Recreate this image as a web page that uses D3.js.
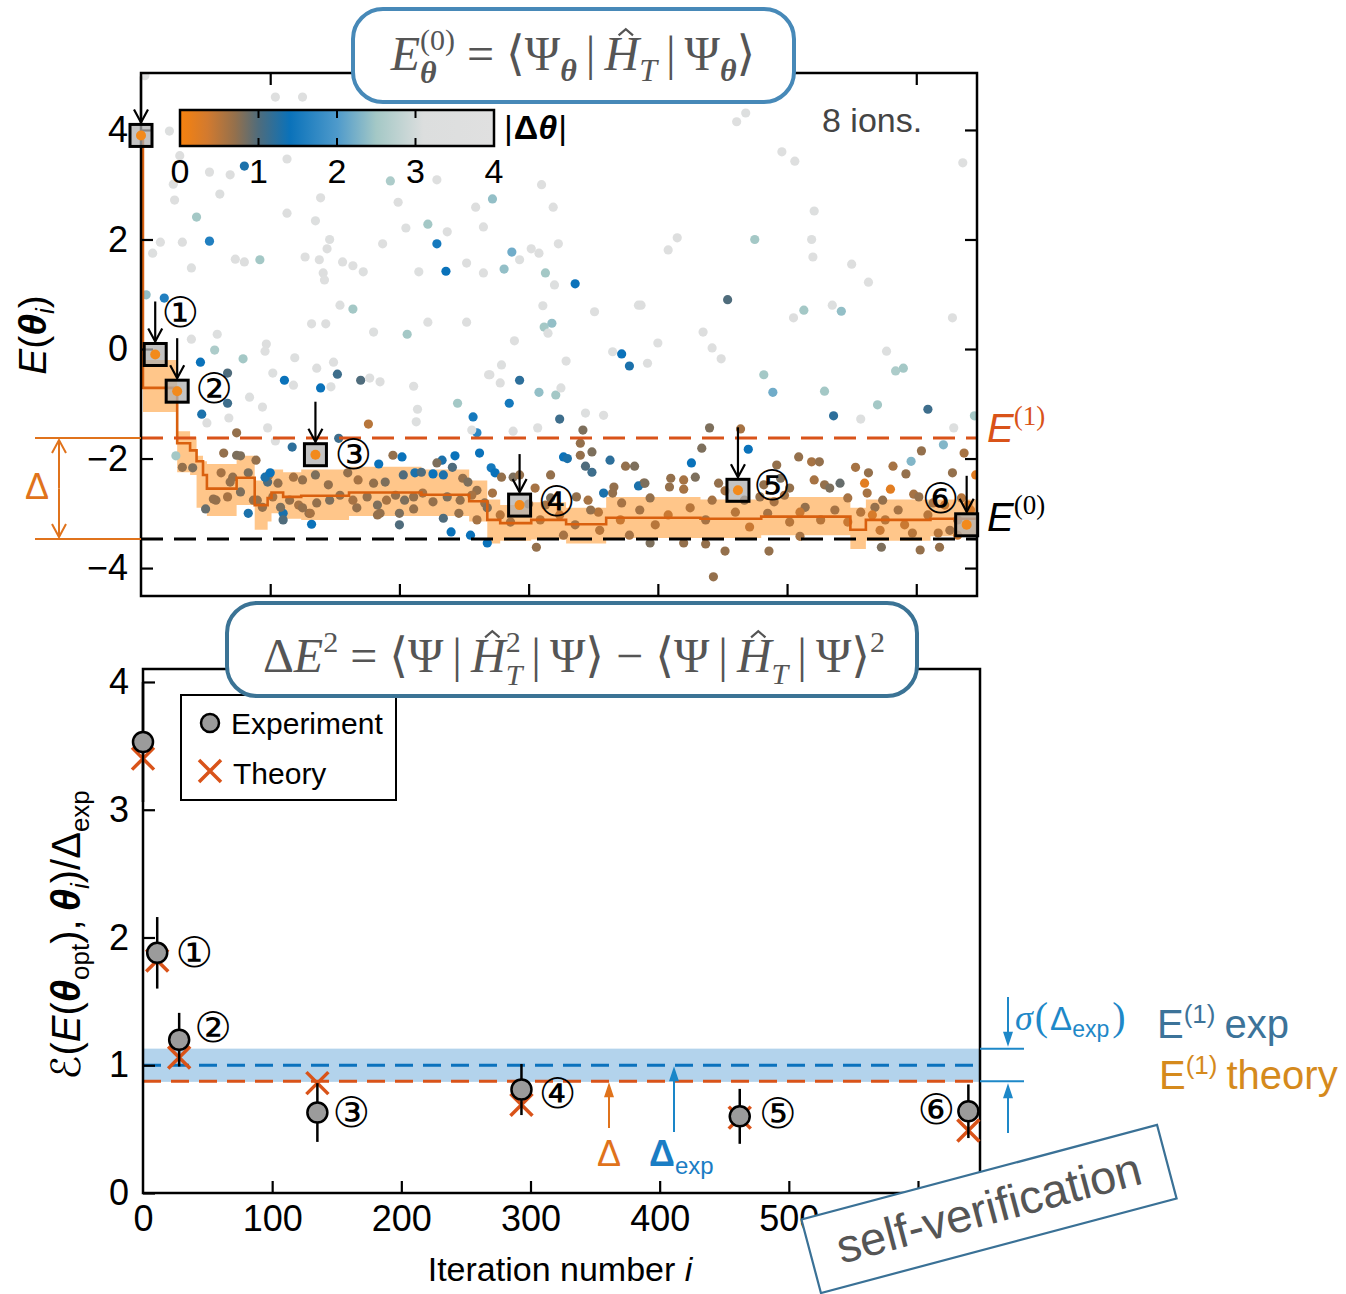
<!DOCTYPE html>
<html><head><meta charset="utf-8">
<script src="https://cdn.jsdelivr.net/npm/d3@7"></script>
<style>body{margin:0;background:#fff}</style>
</head><body>
<script>
// ================= DATA =================
// scatter: [iteration, energy, |Δθ|]
const scatterPoints = [
[3,4.99,3.5],[22,3.98,3.4],[30,3.53,3.3],[80,3.34,1.3],[53,3.23,3.5],[69,3.18,3.3],[113,3.47,3.6],[104,4.6,3.5],[125,4.6,3.5],[25,3.01,3.4],[61,2.83,3.2],[26,2.72,3.5],[43,2.41,2.5],[113,2.48,3.3],[139,2.76,3.6],[135,2.34,3.4],[199,2.68,3.3],[193,3.07,2.6],[229,3.09,3.5],[310,3.0,3.6],[272,2.74,2.4],[259,2.59,3.3],[319,2.59,3.5],[222,2.28,2.5],[205,2.21,3.4],[237,2.14,3.3],[265,2.23,3.6],[229,1.92,1.5],[53,1.97,1.6],[32,1.95,3.3],[15,1.95,3.5],[9,1.75,3.4],[73,1.64,3.5],[80,1.59,3.3],[92,1.63,2.5],[39,1.48,3.4],[127,1.68,3.6],[138,1.63,3.5],[146,2.0,3.4],[144,1.83,3.3],[156,1.59,3.5],[164,1.52,3.6],[172,1.41,3.4],[187,1.92,3.5],[141,1.39,3.3],[142,1.26,3.5],[215,1.41,3.4],[236,1.42,1.4],[252,1.57,3.3],[265,1.39,3.5],[281,1.46,2.4],[287,1.77,2.2],[293,1.63,3.4],[302,1.83,3.5],[308,1.75,3.3],[313,1.39,2.5],[320,1.17,3.4],[336,1.19,1.4],[323,1.92,3.5],
[461,4.15,3.5],[468,4.31,3.4],[496,3.6,3.5],[506,3.43,3.6],[636,3.4,3.5],[521,2.52,3.4],[415,2.03,3.3],[408,1.81,3.5],[475,2.0,2.5],[519,2.0,3.4],[520,1.68,3.5],[550,1.55,3.3],[563,1.22,3.5],[385,0.8,3.4],[454,0.9,1.0],[513,0.71,2.5],[535,0.8,3.4],[542,0.69,2.4],[628,0.57,3.5],[505,0.57,3.3],
[164,0.73,2.5],[154,0.8,3.4],[132,0.46,3.5],[143,0.46,3.3],[180,0.31,3.4],[206,0.27,2.5],[222,0.49,3.5],[252,0.49,3.3],[59,0.27,3.4],[39,0.18,3.5],[97,0.09,3.3],[96,-0.04,3.5],[79,-0.18,2.5],[57,-0.02,2.6],[46,-0.24,1.4],[119,-0.16,3.4],[149,-0.24,3.5],[136,-0.35,3.3],[152,-0.46,1.1],[67,-0.44,1.0],[170,-0.57,1.0],[111,-0.57,1.4],[102,-0.44,3.4],[177,-0.53,3.5],[185,-0.6,3.3],[139,-0.71,1.4],[118,-0.66,3.5],[147,-0.69,3.4],[211,-0.68,3.5],[270,-0.47,3.3],[84,-0.88,3.4],[67,-0.99,1.1],[94,-1.06,3.5],[214,-1.1,3.4],[245,-0.99,2.5],[47,-1.19,1.3],[51,-1.35,3.3],[68,-1.26,3.5],[213,-1.33,3.4],[257,-1.24,1.5],[98,-1.44,3.5],[74,-1.53,0.7],[176,-1.37,0.5],[260,-1.53,1.7],[256,-1.48,3.4],[104,-1.68,3.3],
[311,0.79,3.4],[351,0.68,3.5],[387,0.8,3.3],[312,0.4,2.5],[318,0.47,2.4],[315,0.29,3.4],[289,0.15,3.5],[435,0.31,3.3],[400,0.11,3.5],[365,-0.05,3.4],[372,-0.09,1.4],[442,0.02,3.5],[449,-0.18,3.3],[577,-0.04,3.4],[329,-0.22,3.5],[392,-0.26,3.3],[378,-0.31,1.3],[279,-0.29,3.4],[590,-0.35,2.5],[584,-0.4,2.6],[269,-0.47,3.5],[293,-0.57,1.2],[278,-0.62,3.3],[482,-0.47,2.5],[308,-0.79,2.4],[321,-0.84,2.5],[325,-0.71,3.4],[489,-0.79,2.2],[529,-0.77,2.5],[285,-0.99,1.5],[570,-1.02,2.5],[609,-1.1,1.1],[344,-1.17,3.4],[358,-1.21,3.5],[324,-1.28,1.1],[536,-1.22,1.2],[557,-1.28,3.4],[645,-1.22,2.5],[307,-1.44,3.5],[629,-1.44,3.4],[288,-1.5,3.3],[342,-1.48,0.8],[440,-1.44,0.8],[464,-1.46,0.6],[4,0.99,2.4],[18,0.93,1.6],
[117,-1.79,1.2],[153,-1.63,1.1],[202,-1.97,1.4],[195,-1.94,0.7],[184,-2.1,1.4],[262,-1.9,1.4],[243,-1.95,1.4],[233,-2.03,1.3],[229,-2.08,0.8],[64,-1.9,0.7],[74,-1.94,0.8],[77,-1.95,0.8],[89,-2.03,0.7],[27,-1.95,2.5],[40,-2.17,0.8],[58,-2.76,0.7],[50,-2.92,0.9],[83,-3.0,1.3],[87,-2.76,0.7],[99,-2.3,0.6],[98,-2.43,1.0],[110,-3.0,1.3],[110,-3.12,1.0],[132,-3.2,1.4],[130,-3.0,0.7],[145,-2.48,0.7],[200,-3.21,1.0],[234,-3.09,1.0],[240,-3.34,1.4],[255,-3.4,1.4],[268,-3.54,1.4],[167,-2.9,0.7],[185,-3.0,0.7],
[32,-2.16,0.7],[62,-2.26,0.6],[71,-2.34,0.7],[83,-2.26,0.8],[69,-2.43,0.7],[96,-2.34,1.3],[100,-2.26,1.4],[106,-2.45,0.7],[118,-2.34,0.6],[125,-2.39,0.7],[135,-2.3,0.8],[160,-2.26,0.7],[168,-2.39,0.6],[180,-2.45,0.7],[189,-2.43,0.8],[203,-2.3,1.0],[212,-2.26,1.3],[217,-2.25,1.0],[226,-2.28,1.4],[234,-2.3,1.3],[241,-2.16,1.0],[249,-2.36,0.7],[253,-2.43,0.8],[260,-2.58,0.7],[272,-2.63,0.6],[56,-2.74,0.7],[67,-2.7,0.6],[77,-2.61,0.8],[90,-2.76,0.7],[94,-2.89,0.7],[102,-2.7,0.6],[108,-2.89,0.8],[115,-2.76,0.7],[122,-2.85,0.6],[136,-2.81,0.7],[146,-2.76,0.8],[154,-2.67,0.7],[164,-2.76,0.6],[175,-2.7,0.7],[183,-2.85,0.8],[190,-2.76,0.6],[197,-2.67,0.7],[204,-2.76,0.8],[211,-2.7,0.7],[218,-2.63,0.6],[226,-2.79,0.7],[237,-2.7,0.8],[247,-2.76,0.7],[256,-2.67,0.6],[266,-2.81,0.7],[183,-3.03,0.7],[200,-3.0,0.8],[211,-2.92,0.7],[246,-3.0,0.7],[260,-3.12,0.6],[268,-2.9,0.8],[125,-2.9,0.7],[131,-3.0,0.6],
[271,-2.17,1.5],[274,-2.26,1.4],[340,-1.72,0.7],[349,-1.88,0.8],[327,-1.97,1.4],[330,-2.0,1.3],[363,-2.03,1.2],[340,-1.94,0.7],[344,-2.14,1.0],[349,-2.25,1.1],[375,-2.14,0.7],[382,-2.14,0.8],[389,-2.45,0.7],[385,-2.5,1.3],[426,-2.08,1.4],[434,-1.81,0.8],[470,-1.83,1.4],[492,-2.12,0.7],[509,-1.97,0.7],[519,-2.06,0.6],[525,-2.06,0.7],[553,-2.16,0.6],[563,-2.26,0.7],[582,-2.14,0.6],[592,-2.28,0.7],[604,-1.86,0.7],[637,-1.9,0.6],[621,-1.75,2.3],[596,-2.05,2.3],[646,-2.3,0.2],[541,-2.45,0.9],[560,-2.45,0.2],[580,-2.56,0.2],[279,-2.34,0.7],[288,-2.34,0.8],[293,-2.3,0.7],[305,-2.54,0.6],[300,-2.83,0.7],[317,-2.3,0.7],[317,-2.72,0.8],[313,-2.85,0.6],[337,-2.7,0.7],[346,-2.76,0.6],[366,-2.52,0.7],[390,-2.45,0.8],[358,-2.63,1.3],[365,-2.63,0.7],[410,-2.36,0.7],[420,-2.39,0.6],[429,-2.34,0.8],[409,-2.52,0.7],[420,-2.56,0.6],[447,-2.45,0.7],[452,-2.59,0.6],[482,-2.48,0.7],[495,-2.36,0.8],[502,-2.54,0.7],[521,-2.39,0.6],[529,-2.48,0.7],[533,-2.54,0.8],[479,-2.7,0.7],[490,-2.79,0.6],[514,-2.89,0.7],[562,-2.63,0.6],[568,-2.89,0.7],[598,-2.65,0.6],[602,-2.7,0.7],[613,-2.81,0.6],[628,-2.26,0.7],[626,-3.31,0.6],[635,-2.72,0.5],[306,-3.62,0.7],[394,-3.54,0.8],[420,-3.54,0.7],[437,-3.56,0.7],[452,-3.69,0.7],[486,-3.69,0.7],[573,-3.62,0.8],[603,-3.67,0.7],[618,-3.62,0.7],[443,-4.16,0.7],[617,-3.36,0.5],
[278,-3.03,0.5],[286,-3.16,0.6],[309,-3.12,0.5],[324,-3.03,0.4],[336,-3.21,0.6],[354,-2.98,0.5],[371,-3.12,0.4],[386,-2.94,0.6],[398,-3.21,0.5],[408,-3.03,0.4],[425,-2.9,0.5],[437,-3.12,0.6],[460,-2.98,0.5],[471,-3.25,0.4],[485,-3.0,0.6],[502,-3.16,0.5],[510,-2.98,0.4],[526,-3.12,0.5],[537,-2.94,0.6],[547,-3.16,0.4],[557,-2.98,0.5],[576,-3.12,0.5],[586,-2.94,0.6],[591,-3.21,0.4],[609,-3.03,0.5],[622,-2.85,0.4],[632,-3.12,0.5],[642,-2.94,0.3],[372,-2.81,0.6],[442,-2.76,0.6],[467,-2.76,0.7],[547,-2.72,0.6],[574,-2.76,0.7],[348,-2.94,0.7],[394,-2.72,0.7],[498,-2.67,0.6],[566,-3.03,0.3],[632,-3.4,0.4],[640,-2.85,0.3],[327,-3.4,0.6],[355,-3.31,0.5],[378,-3.4,0.6],[510,-3.42,0.6],[597,-3.36,0.5],[572,-3.31,0.4]
];
// running best energy (step curve) and its uncertainty band
const bestIter = [0, 1.5, 28, 38, 43, 48, 51, 74, 88, 98, 101, 110, 124, 161, 217, 254, 268, 278, 302, 329, 360, 433, 480, 549, 561, 611, 647];
const bestE    = [3.9, -0.71, -1.72, -1.85, -2.05, -2.3, -2.55, -2.35, -2.85, -2.72, -2.62, -2.7, -2.68, -2.62, -2.66, -2.78, -3.12, -3.18, -3.12, -3.2, -3.08, -3.1, -3.06, -3.3, -3.12, -3.1, -3.1];
const bandHi   = [3.95, -0.2, -1.5, -1.6, -1.95, -2.05, -2.1, -1.95, -2.4, -2.3, -2.2, -2.25, -2.2, -2.15, -2.2, -2.4, -2.75, -2.85, -2.8, -2.9, -2.7, -2.75, -2.7, -2.9, -2.75, -2.75, -2.75];
const bandLo   = [3.85, -1.15, -2.25, -2.3, -2.9, -2.95, -3.05, -2.85, -3.3, -3.15, -3.0, -3.1, -3.12, -3.05, -3.05, -3.15, -3.55, -3.5, -3.48, -3.55, -3.45, -3.45, -3.4, -3.65, -3.5, -3.42, -3.42];
const energyE1 = -1.625, energyE0 = -3.47;
// highlighted iterations
const markIter = [0, 11, 28, 135, 293, 462, 639];
const markE    = [3.9, -0.1, -0.77, -1.93, -2.85, -2.58, -3.21];
const markLabels = ['', '①', '②', '③', '④', '⑤', '⑥'];
const expVal    = [3.53, 1.88, 1.2, 0.63, 0.81, 0.6, 0.64];
const expErr    = [0.47, 0.28, 0.21, 0.23, 0.2, 0.215, 0.21];
const theoryVal = [3.4, 1.82, 1.06, 0.86, 0.69, 0.59, 0.49];
const ratioE1Exp = 1.0, ratioSigma = 0.13, ratioE1Theory = 0.875;
const topYTicks = [-4, -2, 0, 2, 4];
const botYTicks = [0, 1, 2, 3, 4];
const xTickVals = [0, 100, 200, 300, 400, 500, 600];
const cbTicks = [0, 1, 2, 3, 4];
const cmapStops  = [0, 0.35, 0.7, 1.0, 1.4, 2.0, 2.5, 3.1, 4];
const cmapColors = ['#F7820E', '#D27A2F', '#94704C', '#4F6C7C', '#0A72BA', '#4E9ACB', '#A4C8C6', '#DCDEDE', '#E0E0E0'];

// ================= SETUP =================
const SANS = "'Liberation Sans', Arial, sans-serif";
const SERIF = "'Liberation Serif', 'DejaVu Serif', serif";
const SYM = "'DejaVu Sans', sans-serif";
const ORANGE = '#D95319', BLUE = '#0B72BD';

const svg = d3.select('body').append('svg').attr('width', 1346).attr('height', 1294)
  .style('display', 'block');
const defs = svg.append('defs');

const xTop = d3.scaleLinear([0, 647], [141, 977]);
const yTop = d3.scaleLinear([-4.51, 5.04], [596, 73]);
const xBot = d3.scaleLinear([0, 648], [143, 980]);
const yBot = d3.scaleLinear([0, 4.1], [1193, 669.2]);
const cmap = d3.scaleLinear().domain(cmapStops).range(cmapColors).clamp(true);

function rich(parent, pieces, o) {
  const g = parent.append('g');
  let cx = 0, prevStart = 0;
  pieces.forEach(p => {
    const fs = p.fs || o.fs;
    cx += (p.pre || 0);
    const start = p.under ? prevStart : cx;
    const t = g.append('text').attr('x', start).attr('y', p.dy || 0)
      .attr('font-family', p.ff || o.ff).attr('font-size', fs)
      .attr('font-style', p.it ? 'italic' : 'normal')
      .attr('font-weight', p.b ? 'bold' : 'normal')
      .attr('fill', p.fill || o.fill).text(p.t);
    const w = t.node().getComputedTextLength();
    if (p.hat) {
      const hx = start + w / 2 + (p.hatdx || 0), hy = (p.dy || 0) - fs * 0.72;
      const hw = fs * 0.15, hh = fs * 0.13;
      g.append('path').attr('d', `M${hx - hw},${hy}L${hx},${hy - hh}L${hx + hw},${hy}`)
        .attr('fill', 'none').attr('stroke', p.fill || o.fill).attr('stroke-width', 2.2)
        .attr('stroke-linejoin', 'miter');
    }
    if (!p.under) prevStart = start;
    cx = Math.max(cx, start + w) + (p.sp || 0);
  });
  const shift = o.anchor === 'middle' ? -cx / 2 : o.anchor === 'end' ? -cx : 0;
  g.attr('transform', `translate(${o.x + shift},${o.y})`);
  return g;
}
function arrowV(g, x, y1, y2, color, w, filled) {
  const dir = y2 > y1 ? 1 : -1;
  if (filled) {
    g.append('line').attr('x1', x).attr('x2', x).attr('y1', y1).attr('y2', y2 - dir * 10)
      .attr('stroke', color).attr('stroke-width', w);
    g.append('path').attr('d', `M${x - 5},${y2 - dir * 15}L${x},${y2}L${x + 5},${y2 - dir * 15}Z`).attr('fill', color);
  } else {
    g.append('line').attr('x1', x).attr('x2', x).attr('y1', y1).attr('y2', y2)
      .attr('stroke', color).attr('stroke-width', w);
    g.append('path').attr('d', `M${x - 7},${y2 - dir * 13}L${x},${y2}L${x + 7},${y2 - dir * 13}`)
      .attr('fill', 'none').attr('stroke', color).attr('stroke-width', w);
  }
}
function styleAxis(g, fs) {
  g.select('.domain').remove();
  g.selectAll('.tick line').attr('stroke', '#000').attr('stroke-width', 2.2);
  g.selectAll('.tick text').attr('font-family', SANS).attr('font-size', fs).attr('fill', '#000');
}

// ================= TOP PANEL =================
const gT = svg.append('g');
defs.append('clipPath').attr('id', 'clipTop').append('rect')
  .attr('x', 141).attr('y', 73).attr('width', 836).attr('height', 523);
const plotTop = gT.append('g').attr('clip-path', 'url(#clipTop)');

const bandData = bestIter.map((d, k) => ({ i: d, lo: bandLo[k], hi: bandHi[k], e: bestE[k] }));
plotTop.append('path').datum(bandData)
  .attr('d', d3.area().curve(d3.curveStepAfter).x(d => xTop(d.i)).y0(d => yTop(d.lo)).y1(d => yTop(d.hi)))
  .attr('fill', '#FFC68A');

plotTop.selectAll('circle.pt').data(scatterPoints).join('circle')
  .attr('cx', d => xTop(d[0])).attr('cy', d => yTop(d[1])).attr('r', 4.6)
  .attr('fill', d => cmap(d[2]));

plotTop.append('path').datum(bandData)
  .attr('d', d3.line().curve(d3.curveStepAfter).x(d => xTop(d.i)).y(d => yTop(d.e)))
  .attr('fill', 'none').attr('stroke', '#D9600F').attr('stroke-width', 2.6);

gT.append('line').attr('x1', 141).attr('x2', 977).attr('y1', yTop(energyE1)).attr('y2', yTop(energyE1))
  .attr('stroke', ORANGE).attr('stroke-width', 3).attr('stroke-dasharray', '22,11');
gT.append('line').attr('x1', 141).attr('x2', 977).attr('y1', yTop(energyE0)).attr('y2', yTop(energyE0))
  .attr('stroke', '#000').attr('stroke-width', 3).attr('stroke-dasharray', '22,11');

// axes
const axL = gT.append('g').attr('transform', 'translate(141,0)')
  .call(d3.axisLeft(yTop).tickValues(topYTicks).tickSize(-12).tickPadding(13).tickFormat(d3.format('d')));
styleAxis(axL, 36);
const axR = gT.append('g').attr('transform', 'translate(977,0)')
  .call(d3.axisRight(yTop).tickValues(topYTicks).tickSize(-12).tickFormat(''));
styleAxis(axR, 36);
const axB = gT.append('g').attr('transform', 'translate(0,596)')
  .call(d3.axisBottom(xTop).tickValues(xTickVals.slice(1)).tickSize(-12).tickFormat(''));
styleAxis(axB, 36);
const axT = gT.append('g').attr('transform', 'translate(0,73)')
  .call(d3.axisTop(xTop).tickValues(xTickVals.slice(1)).tickSize(-12).tickFormat(''));
styleAxis(axT, 36);
gT.append('rect').attr('x', 141).attr('y', 73).attr('width', 836).attr('height', 523)
  .attr('fill', 'none').attr('stroke', '#000').attr('stroke-width', 2.5);

// marked iterations
const CIRC_FS = 42;
const topLabelOff = [[0, 0], [25, -42], [37, -3], [38, 0], [37, -4], [34, -5], [-26, -26]];
const topArrowLen = [46, 40, 40, 40, 38, 50, 36];
markIter.forEach((it, k) => {
  const cx = xTop(it), cy = yTop(markE[k]);
  arrowV(gT, cx, cy - 13 - topArrowLen[k], cy - 13, '#000', 2.2, false);
  gT.append('rect').attr('x', cx - 11).attr('y', cy - 11).attr('width', 22).attr('height', 22)
    .attr('fill', 'rgba(175,175,175,0.75)').attr('stroke', '#000').attr('stroke-width', 3);
  gT.append('circle').attr('cx', cx).attr('cy', cy).attr('r', 5).attr('fill', '#F28A1C');
  if (markLabels[k]) gT.append('text').attr('x', cx + topLabelOff[k][0]).attr('y', cy + topLabelOff[k][1])
    .attr('text-anchor', 'middle').attr('dominant-baseline', 'central')
    .attr('font-family', SYM).attr('font-size', CIRC_FS).text(markLabels[k]);
});

// Δ annotation at left
const dOr = '#E0731C';
[energyE1, energyE0].forEach(e => gT.append('line').attr('x1', 35).attr('x2', 141)
  .attr('y1', yTop(e)).attr('y2', yTop(e)).attr('stroke', dOr).attr('stroke-width', 2));
arrowV(gT, 59, (yTop(energyE1) + yTop(energyE0)) / 2, yTop(energyE1) + 2, dOr, 2, false);
arrowV(gT, 59, (yTop(energyE1) + yTop(energyE0)) / 2, yTop(energyE0) - 2, dOr, 2, false);
gT.append('text').attr('x', 37).attr('y', 499).attr('text-anchor', 'middle')
  .attr('font-family', SANS).attr('font-size', 36).attr('fill', dOr).text('Δ');

// E labels on right
rich(gT, [{ t: 'E', it: 1 }, { t: '(1)', fs: 27, dy: -17, ff: SERIF }], { x: 987, y: 442, fs: 40, ff: SANS, fill: ORANGE });
rich(gT, [{ t: 'E', it: 1 }, { t: '(0)', fs: 27, dy: -17, ff: SERIF }], { x: 987, y: 531, fs: 40, ff: SANS, fill: '#000' });

// y label
const ylT = gT.append('g').attr('transform', 'translate(46,335) rotate(-90)');
rich(ylT, [{ t: 'E', it: 1 }, { t: '(' }, { t: 'θ', it: 1, b: 1 }, { t: 'i', fs: 26, it: 1, dy: 8 }, { t: ')' }],
  { x: 0, y: 0, fs: 39, ff: SANS, fill: '#000', anchor: 'middle' });

// colorbar
const cbX = d3.scaleLinear([0, 4], [180, 494]);
const grad = defs.append('linearGradient').attr('id', 'cbGrad');
cmapStops.forEach((s, k) => grad.append('stop').attr('offset', s / 4).attr('stop-color', cmapColors[k]));
gT.append('rect').attr('x', 180).attr('y', 110).attr('width', 314).attr('height', 36)
  .attr('fill', 'url(#cbGrad)').attr('stroke', '#000').attr('stroke-width', 2.5);
cbTicks.slice(1, 4).forEach(v => {
  gT.append('line').attr('x1', cbX(v)).attr('x2', cbX(v)).attr('y1', 110).attr('y2', 118).attr('stroke', '#000').attr('stroke-width', 2);
  gT.append('line').attr('x1', cbX(v)).attr('x2', cbX(v)).attr('y1', 138).attr('y2', 146).attr('stroke', '#000').attr('stroke-width', 2);
});
gT.selectAll('text.cb').data(cbTicks).join('text').attr('class', 'cb')
  .attr('x', d => cbX(d)).attr('y', 183).attr('text-anchor', 'middle')
  .attr('font-family', SANS).attr('font-size', 34).text(d => d);
rich(gT, [{ t: '|', b: 0, sp: 1 }, { t: 'Δ', b: 1 }, { t: 'θ', b: 1, it: 1, sp: 1 }, { t: '|' }],
  { x: 504, y: 139, fs: 34, ff: SANS, fill: '#000' });

gT.append('text').attr('x', 822).attr('y', 132).attr('font-family', SANS).attr('font-size', 34)
  .attr('fill', '#444').text('8 ions.');

// title box 1
gT.append('rect').attr('x', 353).attr('y', 9).attr('width', 441).attr('height', 93).attr('rx', 30)
  .attr('fill', '#fff').attr('stroke', '#4789B8').attr('stroke-width', 4);
rich(gT, [
  { t: 'E', it: 1 }, { t: '(0)', fs: 30, dy: -20 }, { t: 'θ', fs: 32, it: 1, b: 1, dy: 13, under: 1, sp: 12 },
  { t: '=', sp: 12 }, { t: '⟨' }, { t: 'Ψ' }, { t: 'θ', fs: 32, it: 1, b: 1, dy: 11, sp: 9 }, { t: '|', sp: 9 },
  { t: 'H', it: 1, hat: 1, hatdx: 4 }, { t: 'T', fs: 32, it: 1, dy: 11, sp: 9 }, { t: '|', sp: 9 },
  { t: 'Ψ' }, { t: 'θ', fs: 32, it: 1, b: 1, dy: 11 }, { t: '⟩' }
], { x: 573, y: 70, fs: 48, ff: SERIF, fill: '#555', anchor: 'middle' });

// ================= BOTTOM PANEL =================
const gB = svg.append('g');
gB.append('rect').attr('x', 143).attr('y', yBot(ratioE1Exp + ratioSigma)).attr('width', 837)
  .attr('height', yBot(ratioE1Exp - ratioSigma) - yBot(ratioE1Exp + ratioSigma)).attr('fill', '#B3D3EC');
gB.append('line').attr('x1', 143).attr('x2', 980).attr('y1', yBot(ratioE1Exp)).attr('y2', yBot(ratioE1Exp))
  .attr('stroke', BLUE).attr('stroke-width', 3).attr('stroke-dasharray', '18,10');
gB.append('line').attr('x1', 143).attr('x2', 980).attr('y1', yBot(ratioE1Theory)).attr('y2', yBot(ratioE1Theory))
  .attr('stroke', ORANGE).attr('stroke-width', 3).attr('stroke-dasharray', '18,10');

const bL = gB.append('g').attr('transform', 'translate(143,0)')
  .call(d3.axisLeft(yBot).tickValues(botYTicks).tickSize(-12).tickPadding(14).tickFormat(d3.format('d')));
styleAxis(bL, 36);
const bB = gB.append('g').attr('transform', 'translate(0,1193)')
  .call(d3.axisBottom(xBot).tickValues(xTickVals).tickSize(-12).tickPadding(12).tickFormat(d3.format('d')));
styleAxis(bB, 36);
bB.selectAll('.tick line').filter(d => d === 0).remove();
gB.append('rect').attr('x', 143).attr('y', 669).attr('width', 837).attr('height', 524)
  .attr('fill', 'none').attr('stroke', '#000').attr('stroke-width', 2.5);

// theory X, error bars, experiment circles
const botLabelOff = [[0, 0], [37, 0], [34, -12], [34, 0], [36, 4], [38, -3], [-32, -2]];
markIter.forEach((it, k) => {
  const cx = xBot(it), ty = yBot(theoryVal[k]), s = 11;
  gB.append('path').attr('d', `M${cx - s},${ty - s}L${cx + s},${ty + s}M${cx - s},${ty + s}L${cx + s},${ty - s}`)
    .attr('stroke', ORANGE).attr('stroke-width', 3.5).attr('fill', 'none');
  gB.append('line').attr('x1', cx).attr('x2', cx).attr('y1', yBot(expVal[k] + expErr[k])).attr('y2', yBot(expVal[k] - expErr[k]))
    .attr('stroke', '#000').attr('stroke-width', 2.5);
  gB.append('circle').attr('cx', cx).attr('cy', yBot(expVal[k])).attr('r', 10)
    .attr('fill', '#9B9B9B').attr('stroke', '#000').attr('stroke-width', 2.5);
  if (markLabels[k]) gB.append('text').attr('x', cx + botLabelOff[k][0]).attr('y', yBot(expVal[k]) + botLabelOff[k][1])
    .attr('text-anchor', 'middle').attr('dominant-baseline', 'central')
    .attr('font-family', SYM).attr('font-size', CIRC_FS).text(markLabels[k]);
});

// legend
gB.append('rect').attr('x', 181).attr('y', 695).attr('width', 215).attr('height', 105)
  .attr('fill', '#fff').attr('stroke', '#000').attr('stroke-width', 2);
gB.append('circle').attr('cx', 210).attr('cy', 723).attr('r', 9).attr('fill', '#9B9B9B').attr('stroke', '#000').attr('stroke-width', 2.5);
gB.append('path').attr('d', 'M199,760L221,782M199,782L221,760').attr('stroke', ORANGE).attr('stroke-width', 3.5);
gB.append('text').attr('x', 231).attr('y', 734).attr('font-family', SANS).attr('font-size', 30).text('Experiment');
gB.append('text').attr('x', 233).attr('y', 784).attr('font-family', SANS).attr('font-size', 30).text('Theory');

// Δ and Δexp arrows
arrowV(gB, 609, 1128, yBot(ratioE1Theory) + 1, '#E0731C', 2, true);
gB.append('text').attr('x', 609).attr('y', 1166).attr('text-anchor', 'middle').attr('font-family', SANS)
  .attr('font-size', 36).attr('fill', '#E0731C').text('Δ');
arrowV(gB, 674, 1132, yBot(ratioE1Exp) + 1, '#1A86C8', 2, true);
rich(gB, [{ t: 'Δ', b: 1 }, { t: 'exp', fs: 24, dy: 8 }], { x: 649, y: 1166, fs: 36, ff: SANS, fill: '#1A7DC4' });

// right annotations
const rb = '#1E88C8';
[ratioE1Exp + ratioSigma, ratioE1Theory].forEach(v => gB.append('line').attr('x1', 980).attr('x2', 1024)
  .attr('y1', yBot(v)).attr('y2', yBot(v)).attr('stroke', rb).attr('stroke-width', 2));
arrowV(gB, 1008, 997, yBot(ratioE1Exp + ratioSigma) - 2, rb, 2, true);
arrowV(gB, 1008, 1133, yBot(ratioE1Theory) + 2, rb, 2, true);
rich(gB, [{ t: 'σ', it: 1, ff: SERIF }, { t: '(', ff: SERIF, fs: 40, pre: 2, sp: 2 }, { t: 'Δ', fs: 33 },
  { t: 'exp', fs: 23, dy: 7 }, { t: ')', ff: SERIF, fs: 40, pre: 3 }],
  { x: 1015, y: 1030, fs: 36, ff: SANS, fill: rb });
rich(gB, [{ t: 'E' }, { t: '(1)', fs: 26, dy: -15, sp: 9 }, { t: 'exp' }],
  { x: 1157, y: 1038, fs: 40, ff: SANS, fill: '#3C7399' });
rich(gB, [{ t: 'E' }, { t: '(1)', fs: 26, dy: -15, sp: 9 }, { t: 'theory' }],
  { x: 1159, y: 1089, fs: 40, ff: SANS, fill: '#D58A1C' });

// axis labels
gB.append('text').attr('x', 560).attr('y', 1281).attr('text-anchor', 'middle').attr('font-family', SANS)
  .attr('font-size', 34).html('Iteration number <tspan font-style="italic">i</tspan>');
const ylB = gB.append('g').attr('transform', 'translate(80,935) rotate(-90)');
rich(ylB, [
  { t: 'ℰ', ff: SYM }, { t: '(' }, { t: 'E', it: 1 }, { t: '(' }, { t: 'θ', it: 1, b: 1 }, { t: 'opt', fs: 26, dy: 9 },
  { t: ')' }, { t: ',', sp: 8 }, { t: 'θ', it: 1, b: 1 }, { t: 'i', fs: 26, it: 1, dy: 9 }, { t: ')' }, { t: '/' },
  { t: 'Δ' }, { t: 'exp', fs: 26, dy: 9 }
], { x: 0, y: 0, fs: 40, ff: SANS, fill: '#000', anchor: 'middle' });

// title box 2
gB.append('rect').attr('x', 227).attr('y', 603).attr('width', 690).attr('height', 93).attr('rx', 30)
  .attr('fill', '#fff').attr('stroke', '#3B7395').attr('stroke-width', 4);
rich(gB, [
  { t: 'Δ' }, { t: 'E', it: 1 }, { t: '2', fs: 30, dy: -20, sp: 12 }, { t: '=', sp: 12 }, { t: '⟨' }, { t: 'Ψ', sp: 9 },
  { t: '|', sp: 9 }, { t: 'H', it: 1, hat: 1, hatdx: 4 }, { t: '2', fs: 30, dy: -20 }, { t: 'T', fs: 30, it: 1, dy: 13, under: 1, sp: 9 },
  { t: '|', sp: 9 }, { t: 'Ψ' }, { t: '⟩', sp: 12 }, { t: '−', sp: 12 }, { t: '⟨' }, { t: 'Ψ', sp: 9 }, { t: '|', sp: 9 },
  { t: 'H', it: 1, hat: 1, hatdx: 4 }, { t: 'T', fs: 30, it: 1, dy: 12, sp: 9 }, { t: '|', sp: 9 }, { t: 'Ψ' }, { t: '⟩' },
  { t: '2', fs: 30, dy: -20 }
], { x: 574, y: 672, fs: 48, ff: SERIF, fill: '#555', anchor: 'middle' });

// self-verification stamp
const sv = svg.append('g').attr('transform', 'translate(989,1209) rotate(-14.9)');
sv.append('rect').attr('x', -184).attr('y', -38).attr('width', 368).attr('height', 76)
  .attr('fill', '#fff').attr('stroke', '#3A7196').attr('stroke-width', 2.2);
sv.append('text').attr('x', 0).attr('y', 15).attr('text-anchor', 'middle').attr('font-family', SANS)
  .attr('font-size', 47).attr('fill', '#555').text('self-verification');
</script>
</body></html>
